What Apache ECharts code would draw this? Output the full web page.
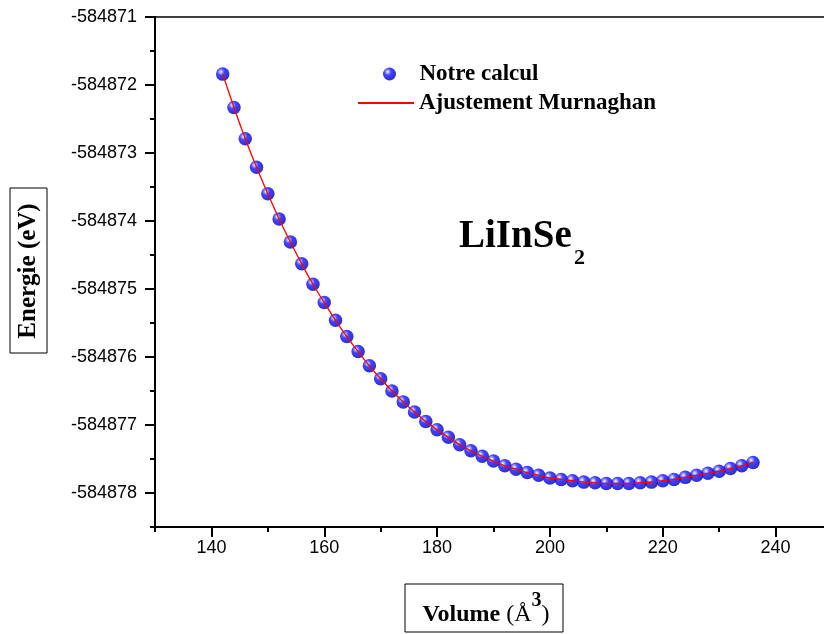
<!DOCTYPE html>
<html>
<head>
<meta charset="utf-8">
<script src="https://cdn.jsdelivr.net/npm/echarts@6/dist/echarts.min.js"></script>
<style>
  html, body { margin: 0; padding: 0; background: #fff; }
  #chart { width: 824px; height: 634px; }
</style>
</head>
<body>
<div id="chart"></div>
<script>
// Volume (Å^3) of each computed structure
const volumes = [
  142, 144, 146, 148, 150, 152, 154, 156, 158, 160,
  162, 164, 166, 168, 170, 172, 174, 176, 178, 180,
  182, 184, 186, 188, 190, 192, 194, 196, 198, 200,
  202, 204, 206, 208, 210, 212, 214, 216, 218, 220,
  222, 224, 226, 228, 230, 232, 234, 236
];
// Total energy (eV) at each volume
const energies = [
  -584871.84, -584872.33, -584872.79, -584873.21, -584873.60, -584873.97, -584874.31, -584874.63, -584874.93, -584875.20,
  -584875.46, -584875.70, -584875.92, -584876.13, -584876.32, -584876.50, -584876.66, -584876.81, -584876.95, -584877.07,
  -584877.18, -584877.29, -584877.38, -584877.46, -584877.53, -584877.60, -584877.65, -584877.70, -584877.74, -584877.78,
  -584877.80, -584877.82, -584877.84, -584877.85, -584877.86, -584877.86, -584877.86, -584877.85, -584877.84, -584877.82,
  -584877.80, -584877.77, -584877.74, -584877.71, -584877.68, -584877.64, -584877.60, -584877.55
];
// Labelled (major) ticks
const xMajorTicks = [140, 160, 180, 200, 220, 240];
const yMajorTicks = [-584878, -584877, -584876, -584875, -584874, -584873, -584872, -584871];

const xRange = { min: 130, max: 250 };
const yRange = { min: -584878.5, max: -584871 };

const points = volumes.map((v, i) => [v, energies[i]]);

// shaded blue ball for the computed points
const sphere = {
  type: 'radial', x: 0.36, y: 0.33, r: 0.72,
  colorStops: [
    { offset: 0, color: '#ffffff' },
    { offset: 0.14, color: '#9a9aff' },
    { offset: 0.38, color: '#1414ff' },
    { offset: 0.8, color: '#0000d4' },
    { offset: 1, color: '#00008a' }
  ]
};

const serif = '"Liberation Serif", "Times New Roman", serif';
const sans = '"Liberation Sans", Arial, sans-serif';
const axisStroke = { color: '#000', width: 2 };
const legendText = { fontFamily: serif, fontWeight: 'bold', fontSize: 23, color: '#000', lineHeight: 24 };

const chart = echarts.init(document.getElementById('chart'), null, { renderer: 'canvas' });

chart.setOption({
  animation: false,
  backgroundColor: '#fff',
  grid: { left: 155, top: 17, width: 677, height: 510, outerBoundsMode: 'none', containLabel: false },
  legend: [
    {
      data: [{ name: 'Notre calcul', icon: 'circle' }],
      left: 378, top: 57,
      itemWidth: 50, itemHeight: 13,
      textStyle: legendText
    },
    {
      data: [{ name: 'Ajustement Murnaghan', itemStyle: { opacity: 0 } }],
      left: 352, top: 86,
      itemWidth: 56, itemHeight: 13,
      textStyle: legendText
    }
  ],
  xAxis: [
    {
      type: 'value', min: xRange.min, max: xRange.max, interval: 10, position: 'bottom',
      axisLine: { onZero: false, lineStyle: axisStroke },
      axisTick: { length: 5, lineStyle: axisStroke },
      axisLabel: {
        margin: 12, fontSize: 18, fontFamily: sans, color: '#000',
        formatter: v => (Math.round(v) % 20 === 0 ? String(Math.round(v)) : '')
      },
      splitLine: { show: false }
    },
    {
      type: 'value', min: xRange.min, max: xRange.max, position: 'bottom',
      axisLine: { show: false },
      axisTick: { show: true, length: 10, customValues: xMajorTicks, lineStyle: axisStroke },
      axisLabel: { show: false },
      splitLine: { show: false }
    },
    {
      type: 'value', min: xRange.min, max: xRange.max, position: 'top',
      axisLine: { onZero: false, lineStyle: { color: '#000', width: 1.5 } },
      axisTick: { show: false },
      axisLabel: { show: false },
      splitLine: { show: false }
    }
  ],
  yAxis: [
    {
      type: 'value', min: yRange.min, max: yRange.max, interval: 0.5, position: 'left',
      axisLine: { onZero: false, lineStyle: axisStroke },
      axisTick: { length: 5, lineStyle: axisStroke },
      axisLabel: {
        margin: 18, fontSize: 18, fontFamily: sans, color: '#000',
        formatter: v => (Math.abs(v - Math.round(v)) < 1e-6 ? String(Math.round(v)) : '')
      },
      splitLine: { show: false }
    },
    {
      type: 'value', min: yRange.min, max: yRange.max, position: 'left',
      axisLine: { show: false },
      axisTick: { show: true, length: 10, customValues: yMajorTicks, lineStyle: axisStroke },
      axisLabel: { show: false },
      splitLine: { show: false }
    }
  ],
  series: [
    {
      name: 'Notre calcul',
      type: 'scatter',
      xAxisIndex: 0, yAxisIndex: 0,
      data: points,
      symbol: 'circle',
      symbolSize: 13.5,
      itemStyle: { color: sphere },
      z: 2
    },
    {
      name: 'Ajustement Murnaghan',
      type: 'line',
      xAxisIndex: 0, yAxisIndex: 0,
      data: points,
      smooth: 0.3,
      symbol: 'none',
      showSymbol: false,
      lineStyle: { color: '#ff0000', width: 1.3 },
      itemStyle: { color: '#ff0000' },
      z: 3
    }
  ],
  graphic: [
    // compound name
    {
      type: 'text', x: 459, y: 237,
      style: { text: 'LiInSe', font: 'bold 39px ' + serif, fill: '#000', align: 'left', verticalAlign: 'middle' }
    },
    {
      type: 'text', x: 574, y: 258,
      style: { text: '2', font: 'bold 22px ' + serif, fill: '#000', align: 'left', verticalAlign: 'middle' }
    },
    // y-axis title in a frame
    {
      type: 'rect', shape: { x: 10, y: 188, width: 37, height: 165 },
      style: { fill: 'none', stroke: '#000', lineWidth: 1 }
    },
    {
      type: 'text', x: 29, y: 271, rotation: Math.PI / 2,
      style: { text: 'Energie (eV)', font: 'bold 25px ' + serif, fill: '#000', align: 'center', verticalAlign: 'middle' }
    },
    // x-axis title in a frame
    {
      type: 'rect', shape: { x: 405, y: 584, width: 158, height: 48 },
      style: { fill: 'none', stroke: '#000', lineWidth: 1 }
    },
    {
      type: 'text', x: 486, y: 609,
      style: {
        text: '{b|Volume }{n|(Å}{s|3}{n|)}',
        align: 'center', verticalAlign: 'middle',
        rich: {
          b: { fontFamily: serif, fontWeight: 'bold', fontSize: 24, lineHeight: 36, verticalAlign: 'bottom', fill: '#000' },
          n: { fontFamily: serif, fontWeight: 'normal', fontSize: 24, lineHeight: 36, verticalAlign: 'bottom', fill: '#000' },
          s: { fontFamily: serif, fontWeight: 'bold', fontSize: 20, lineHeight: 36, verticalAlign: 'top', fill: '#000' }
        }
      }
    }
  ]
});
</script>
</body>
</html>
